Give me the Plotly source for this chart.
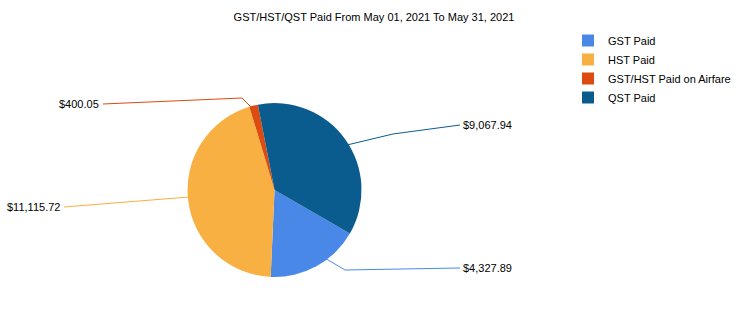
import plotly.graph_objects as go

# ---- data ----
categories = ["GST Paid", "HST Paid", "GST/HST Paid on Airfare", "QST Paid"]
values = [4327.89, 11115.72, 400.05, 9067.94]
value_labels = ["$4,327.89", "$11,115.72", "$400.05", "$9,067.94"]
colors = ["#4A88E8", "#F9B043", "#DC4B0F", "#0B5C8E"]
title_text = "GST/HST/QST Paid From May 01, 2021 To May 31, 2021"

W, H = 742, 316
FONT = "Liberation Sans, Arial"

def px(x, y):
    return x / W, 1 - y / H

fig = go.Figure()
fig.add_trace(go.Pie(
    labels=categories,
    values=values,
    sort=False,
    direction="clockwise",
    rotation=120,
    marker=dict(colors=colors, line=dict(width=0)),
    textinfo="none",
    hoverinfo="label+value",
    domain=dict(x=[0.20, 0.54], y=[0.1234, 0.674]),
))

# label placement (label index, text anchor point, leader path points)
label_layout = [
    (2, (101, 104), "right", [(103, 104), (242, 98), (252, 108)]),
    (1, (62, 207), "right", [(64, 207), (189, 197)]),
    (3, (461, 125), "left", [(460, 125), (393, 134), (347, 145)]),
    (0, (461, 268), "left", [(460, 268), (345, 270), (318, 254)]),
]

shapes = []
annotations = []
for idx, (tx, ty), anchor, pts in label_layout:
    path = ""
    for k, (x, y) in enumerate(pts):
        X, Y = px(x, y)
        path += ("M" if k == 0 else "L") + f"{X:.5f},{Y:.5f} "
    shapes.append(dict(type="path", xref="paper", yref="paper", path=path.strip(),
                       line=dict(color=colors[idx], width=1)))
    X, Y = px(tx, ty)
    annotations.append(dict(x=X, y=Y, xref="paper", yref="paper", text=value_labels[idx],
                            showarrow=False, xanchor=anchor, yanchor="middle",
                            font=dict(family=FONT, size=11, color="#000000")))

fig.update_layout(
    width=W, height=H,
    margin=dict(l=0, r=0, t=0, b=0, autoexpand=False),
    paper_bgcolor="white",
    plot_bgcolor="white",
    title=dict(text=title_text, x=374 / W, xanchor="center", y=1 - 17 / H, yanchor="middle",
               font=dict(family=FONT, size=11, color="#000000")),
    legend=dict(x=568 / W, y=1 - 26 / H, xanchor="left", yanchor="top",
                font=dict(family=FONT, size=11, color="#000000"),
                traceorder="normal", bgcolor="rgba(0,0,0,0)", itemclick=False),
    shapes=shapes,
    annotations=annotations,
)

fig.write_html("out.html")
